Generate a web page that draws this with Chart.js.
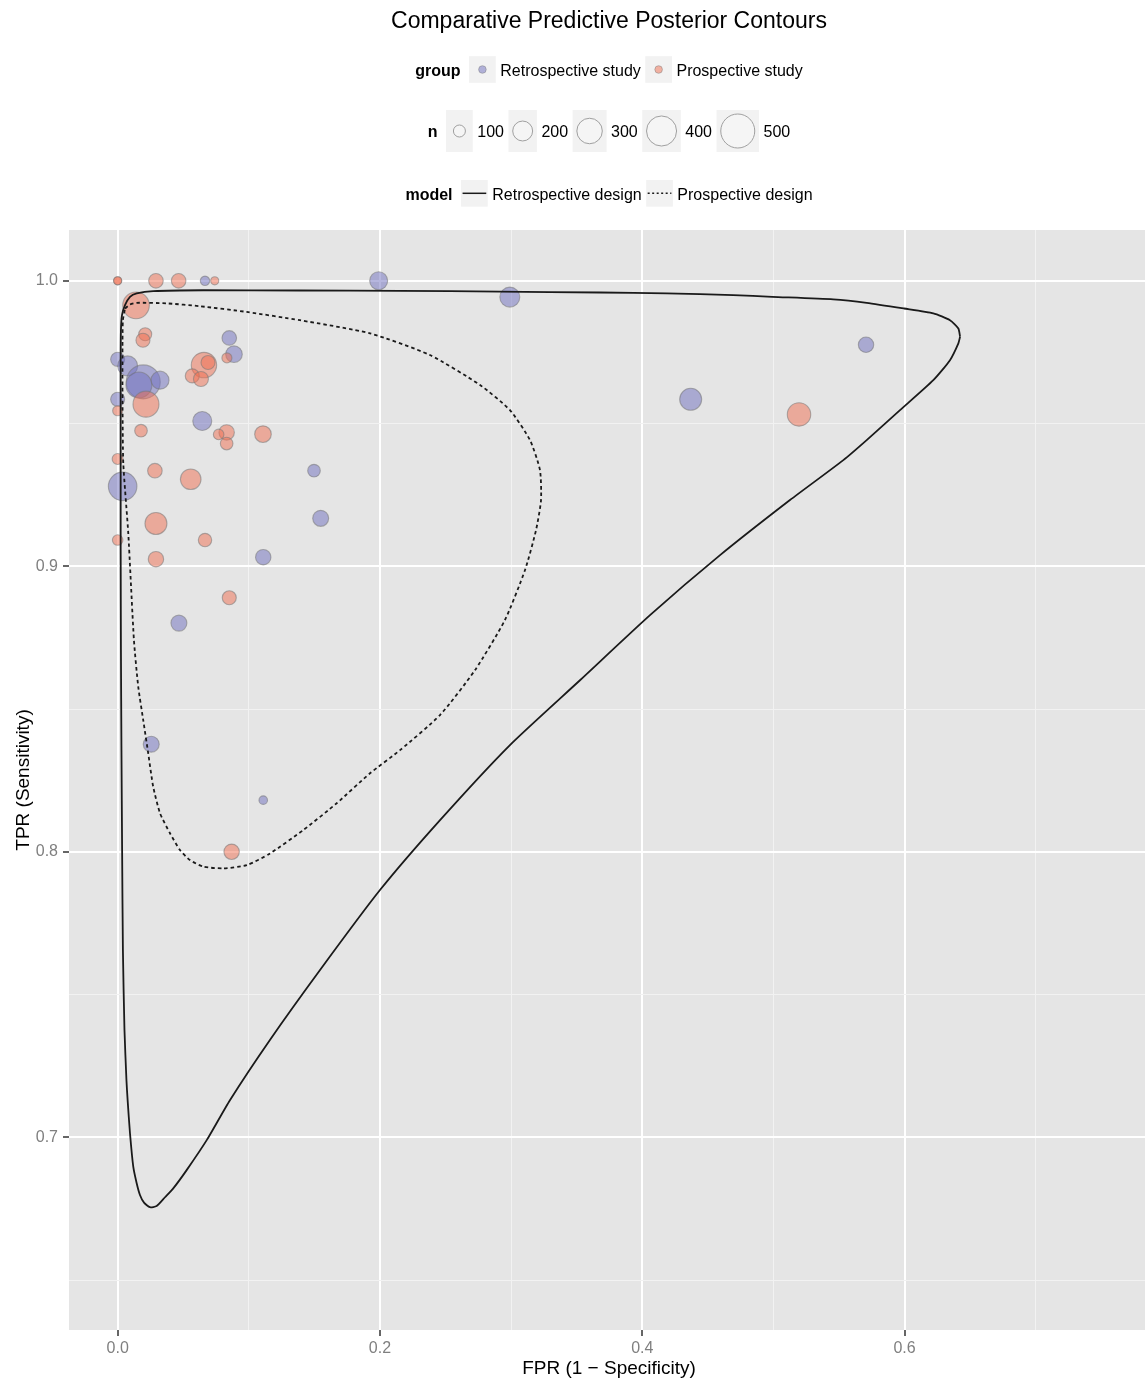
<!DOCTYPE html>
<html>
<head>
<meta charset="utf-8">
<title>Comparative Predictive Posterior Contours</title>
<script src="https://cdn.jsdelivr.net/npm/chart.js@4.4.1/dist/chart.umd.min.js"></script>
<style>
  html, body { margin: 0; padding: 0; background: #fff; }
</style>
</head>
<body>
<canvas id="rocChart" width="1145" height="1382"></canvas>
<script>
// study estimates (FPR, TPR, study size n)
const retroFpr = [0.0666, 0.199, 0.299, 0.0851, 0.0887, 0.0, 0.0076, 0.0195, 0.0162, 0.0323, 0.0,
                  0.0645, 0.1497, 0.0038, 0.1548, 0.111, 0.0467, 0.0256, 0.111, 0.4369, 0.5706];
const retroTpr = [1.0, 1.0, 0.9943, 0.980, 0.9743, 0.9725, 0.9702, 0.9646, 0.9635, 0.9652, 0.9585,
                  0.9509, 0.9335, 0.928, 0.9168, 0.9032, 0.8801, 0.8377, 0.8181, 0.9585, 0.9776];
const retroN   = [78, 171, 201, 127, 152, 121, 201, 500, 310, 171, 121,
                  186, 106, 366, 144, 137, 144, 144, 72, 234, 137];

const prosFpr = [0.0, 0.0, 0.0292, 0.0465, 0.074, 0.014, 0.021, 0.0193, 0.0833, 0.0658, 0.0689, 0.0569,
                 0.0635, 0.0216, 0.0, 0.0178, 0.0831, 0.077, 0.0831, 0.1108, 0.0, 0.0284,
                 0.0557, 0.0292, 0.0, 0.0666, 0.0292, 0.0851, 0.0869, 0.5195];
const prosTpr = [1.0, 1.0, 1.0, 1.0, 1.0, 0.9914, 0.9813, 0.9792, 0.973, 0.9705, 0.9714, 0.9667,
                 0.9656, 0.9568, 0.9545, 0.9475, 0.9469, 0.9462, 0.943, 0.9463, 0.9376, 0.9335,
                 0.9305, 0.915, 0.9092, 0.9092, 0.9025, 0.889, 0.8, 0.9532];
const prosN   = [69, 69, 127, 127, 69, 323, 110, 121, 83, 298, 121, 121,
                 132, 310, 83, 106, 137, 87, 106, 152, 91, 127,
                 211, 234, 87, 114, 137, 121, 137, 260];

// predictive posterior contours
const retroDesignFpr = [0.6423, 0.6410, 0.6346, 0.6219, 0.5996, 0.5711, 0.5456, 0.4991, 0.4694, 0.4186,
  0.3678, 0.2915, 0.2153, 0.1390, 0.0653, 0.0271, 0.0145, 0.0094, 0.0056, 0.0033,
  0.0025, 0.0023, 0.0023, 0.0023, 0.0025, 0.0029, 0.0034, 0.0040, 0.0052, 0.0067,
  0.0076, 0.0094, 0.0119, 0.0145, 0.0170, 0.0201, 0.0246, 0.0297, 0.0361, 0.0424,
  0.0526, 0.0679, 0.0856, 0.1161, 0.1543, 0.2000, 0.2458, 0.2991, 0.3525, 0.4059,
  0.4593, 0.5126, 0.5533, 0.5711, 0.5965, 0.6219, 0.6346, 0.6410, 0.6423];
const retroDesignTpr = [0.9804, 0.9833, 0.9862, 0.9886, 0.9903, 0.9923, 0.9935, 0.9944, 0.9950, 0.9956,
  0.9959, 0.9962, 0.9965, 0.9966, 0.9967, 0.9964, 0.9956, 0.9944, 0.9915, 0.9880,
  0.9827, 0.9722, 0.9407, 0.9057, 0.8707, 0.8356, 0.8006, 0.7656, 0.7376, 0.7200,
  0.7130, 0.7014, 0.6897, 0.6839, 0.6798, 0.6771, 0.6755, 0.6759, 0.6790, 0.6821,
  0.6885, 0.6990, 0.7130, 0.7341, 0.7586, 0.7866, 0.8111, 0.8374, 0.8601, 0.8829,
  0.9039, 0.9232, 0.9372, 0.9442, 0.9547, 0.9652, 0.9722, 0.9781, 0.9804];

const prosDesignFpr = [0.0056, 0.0094, 0.0145, 0.0374, 0.0628, 0.0984, 0.1390, 0.1924, 0.2381, 0.2763,
  0.2991, 0.3144, 0.3220, 0.3228, 0.3190, 0.3106, 0.2953, 0.2724, 0.2458, 0.2153,
  0.1924, 0.1670, 0.1415, 0.1161, 0.0984, 0.0805, 0.0653, 0.0551, 0.0475, 0.0399,
  0.0323, 0.0271, 0.0233, 0.0195, 0.0157, 0.0124, 0.0081, 0.0043, 0.0037, 0.0037,
  0.0040, 0.0056];
const prosDesignTpr = [0.9903, 0.9917, 0.9923, 0.9921, 0.9911, 0.9891, 0.9862, 0.9816, 0.9740, 0.9635,
  0.9547, 0.9442, 0.9337, 0.9232, 0.9127, 0.8987, 0.8812, 0.8636, 0.8479, 0.8356,
  0.8275, 0.8170, 0.8076, 0.7994, 0.7953, 0.7942, 0.7948, 0.7971, 0.8006, 0.8065,
  0.8135, 0.8228, 0.8345, 0.8461, 0.8578, 0.8742, 0.9115, 0.9360, 0.9582, 0.9792,
  0.9862, 0.9903];

// axes and legend
const xMajor = [0.0, 0.2, 0.4, 0.6];
const xMinor = [0.1, 0.3, 0.5, 0.7];
const yMajor = [0.7, 0.8, 0.9, 1.0];
const yMinor = [0.65, 0.75, 0.85, 0.95];
const groupLabels = ['Retrospective study', 'Prospective study'];
const sizeBreaks = [100, 200, 300, 400, 500];
const modelLabels = ['Retrospective design', 'Prospective design'];

const FONT = "'Liberation Sans', Arial, Helvetica, sans-serif";
const retroFill = 'rgba(110, 110, 190, 0.5)';
const prosFill = 'rgba(240, 110, 80, 0.5)';
const pointEdge = 'rgba(120, 120, 120, 0.55)';
const lineColor = '#1a1a1a';

// area-type size scale, like ggplot's scale_size
function sizeToRadius(n) {
    return Math.sqrt(Math.max(0.6325 * n - 27.25, 9));
}

function toPoints(xs, ys) {
    return xs.map((x, i) => ({ x: x, y: ys[i] }));
}

function toBubbles(xs, ys, ns) {
    return xs.map((x, i) => ({ x: x, y: ys[i], r: sizeToRadius(ns[i]) }));
}

function isIn(list, v) {
    return list.some(m => Math.abs(m - v) < 1e-6);
}

function drawLegendRow(ctx, cx, midY, title, keys) {
    ctx.font = `bold 16px ${FONT}`;
    const titleW = ctx.measureText(title).width;
    ctx.font = `16px ${FONT}`;
    let total = titleW + 8.5;
    keys.forEach((k, i) => {
        k.textW = ctx.measureText(k.label).width;
        total += k.w + 4.5 + k.textW + (i < keys.length - 1 ? 4.5 : 0);
    });
    let x = cx - total / 2;
    const baseY = midY + 6.2;
    ctx.fillStyle = '#000';
    ctx.textAlign = 'left';
    ctx.textBaseline = 'alphabetic';
    ctx.font = `bold 16px ${FONT}`;
    ctx.fillText(title, x, baseY);
    x += titleW + 8.5;
    ctx.font = `16px ${FONT}`;
    keys.forEach(k => {
        ctx.fillStyle = '#f2f2f2';
        ctx.fillRect(x, midY - k.h / 2, k.w, k.h);
        k.draw(ctx, x + k.w / 2, midY, k.w);
        ctx.fillStyle = '#000';
        ctx.fillText(k.label, x + k.w + 4.5, baseY);
        x += k.w + 4.5 + k.textW + 4.5;
    });
}

const ggDecor = {
    id: 'ggDecor',
    beforeDraw(chart) {
        const { ctx, chartArea: a } = chart;
        ctx.save();
        ctx.fillStyle = '#e5e5e5';
        ctx.fillRect(a.left, a.top, a.right - a.left, a.bottom - a.top);
        ctx.restore();
    },
    afterDraw(chart) {
        const { ctx, chartArea: a } = chart;
        const cx = (a.left + a.right) / 2 + 2;
        ctx.save();

        // Title
        ctx.fillStyle = '#000';
        ctx.textAlign = 'center';
        ctx.textBaseline = 'alphabetic';
        ctx.font = `23px ${FONT}`;
        ctx.fillText('Comparative Predictive Posterior Contours', cx, 27.5);

        // Axis titles
        ctx.font = `19px ${FONT}`;
        ctx.fillText('FPR (1 \u2212 Specificity)', cx, chart.height - 8.5);
        ctx.save();
        ctx.translate(29, (a.top + a.bottom) / 2);
        ctx.rotate(-Math.PI / 2);
        ctx.fillText('TPR (Sensitivity)', 0, 0);
        ctx.restore();

        // group legend
        const dotKey = fill => (c, x, y) => {
            c.beginPath();
            c.arc(x, y, 3.8, 0, Math.PI * 2);
            c.fillStyle = fill;
            c.fill();
            c.lineWidth = 0.8;
            c.strokeStyle = pointEdge;
            c.stroke();
        };
        drawLegendRow(ctx, cx, 69.5, 'group', [
            { label: groupLabels[0], w: 26.7, h: 26.7, draw: dotKey(retroFill) },
            { label: groupLabels[1], w: 26.7, h: 26.7, draw: dotKey(prosFill) }
        ]);

        // n legend
        drawLegendRow(ctx, cx, 131, 'n', sizeBreaks.map(n => {
            const r = sizeToRadius(n);
            return {
                label: String(n), w: Math.max(26.7, 2 * r + 8.5), h: 42,
                draw: (c, x, y) => {
                    c.beginPath();
                    c.arc(x, y, r, 0, Math.PI * 2);
                    c.fillStyle = 'rgba(255, 255, 255, 0.25)';
                    c.fill();
                    c.lineWidth = 1;
                    c.strokeStyle = '#a0a0a0';
                    c.stroke();
                }
            };
        }));

        // model legend
        const lineKey = dash => (c, x, y, w) => {
            c.save();
            c.beginPath();
            c.setLineDash(dash);
            c.moveTo(x - w / 2 + 1.5, y);
            c.lineTo(x + w / 2 - 1.5, y);
            c.lineWidth = 1.5;
            c.strokeStyle = lineColor;
            c.stroke();
            c.restore();
        };
        drawLegendRow(ctx, cx, 193.3, 'model', [
            { label: modelLabels[0], w: 26.7, h: 26.7, draw: lineKey([]) },
            { label: modelLabels[1], w: 26.7, h: 26.7, draw: lineKey([2, 2.5]) }
        ]);

        ctx.restore();
    }
};

const tickFont = { family: FONT, size: 16 };

const rocChart = new Chart(document.getElementById('rocChart').getContext('2d'), {
    type: 'bubble',
    data: {
        datasets: [
            {
                type: 'line',
                label: modelLabels[0],
                data: toPoints(retroDesignFpr, retroDesignTpr),
                borderColor: lineColor,
                borderWidth: 1.8,
                pointRadius: 0,
                fill: false,
                tension: 0.2,
                order: 0
            },
            {
                type: 'line',
                label: modelLabels[1],
                data: toPoints(prosDesignFpr, prosDesignTpr),
                borderColor: lineColor,
                borderWidth: 1.8,
                borderDash: [3.5, 3],
                pointRadius: 0,
                fill: false,
                tension: 0.2,
                order: 0
            },
            {
                label: groupLabels[1],
                data: toBubbles(prosFpr, prosTpr, prosN),
                backgroundColor: prosFill,
                borderColor: pointEdge,
                borderWidth: 1.1,
                order: 1
            },
            {
                label: groupLabels[0],
                data: toBubbles(retroFpr, retroTpr, retroN),
                backgroundColor: retroFill,
                borderColor: pointEdge,
                borderWidth: 1.1,
                order: 2
            }
        ]
    },
    options: {
        responsive: false,
        animation: false,
        events: [],
        layout: {
            autoPadding: false,
            padding: { top: 230, left: 0, right: 0, bottom: 0 }
        },
        plugins: {
            legend: { display: false },
            title: { display: false },
            tooltip: { enabled: false }
        },
        scales: {
            x: {
                type: 'linear',
                min: -0.0371,
                max: 0.7833,
                afterBuildTicks: scale => {
                    scale.ticks = xMajor.concat(xMinor).sort((a, b) => a - b).map(v => ({ value: v }));
                },
                afterFit: scale => {
                    scale.height = 52;
                    scale.paddingLeft = 0;
                    scale.paddingRight = 0;
                },
                border: { display: false },
                grid: {
                    color: ctx => isIn(xMajor, ctx.tick.value) ? '#ffffff' : '#f2f2f2',
                    lineWidth: ctx => isIn(xMajor, ctx.tick.value) ? 2 : 1,
                    tickColor: ctx => isIn(xMajor, ctx.tick.value) ? '#666666' : 'rgba(0,0,0,0)',
                    tickLength: 6,
                    drawTicks: true
                },
                ticks: {
                    autoSkip: false,
                    maxRotation: 0,
                    padding: 3,
                    color: '#7f7f7f',
                    font: tickFont,
                    callback: v => isIn(xMajor, v) ? v.toFixed(1) : ''
                }
            },
            y: {
                type: 'linear',
                min: 0.6325,
                max: 1.0178,
                afterBuildTicks: scale => {
                    scale.ticks = yMajor.concat(yMinor).sort((a, b) => a - b).map(v => ({ value: v }));
                },
                afterFit: scale => {
                    scale.width = 69;
                    scale.paddingTop = 0;
                    scale.paddingBottom = 0;
                },
                border: { display: false },
                grid: {
                    color: ctx => isIn(yMajor, ctx.tick.value) ? '#ffffff' : '#f2f2f2',
                    lineWidth: ctx => isIn(yMajor, ctx.tick.value) ? 2 : 1,
                    tickColor: ctx => isIn(yMajor, ctx.tick.value) ? '#666666' : 'rgba(0,0,0,0)',
                    tickLength: 6,
                    drawTicks: true
                },
                ticks: {
                    autoSkip: false,
                    padding: 5,
                    color: '#7f7f7f',
                    font: tickFont,
                    callback: v => isIn(yMajor, v) ? v.toFixed(1) : ''
                }
            }
        }
    },
    plugins: [ggDecor]
});
</script>
</body>
</html>
